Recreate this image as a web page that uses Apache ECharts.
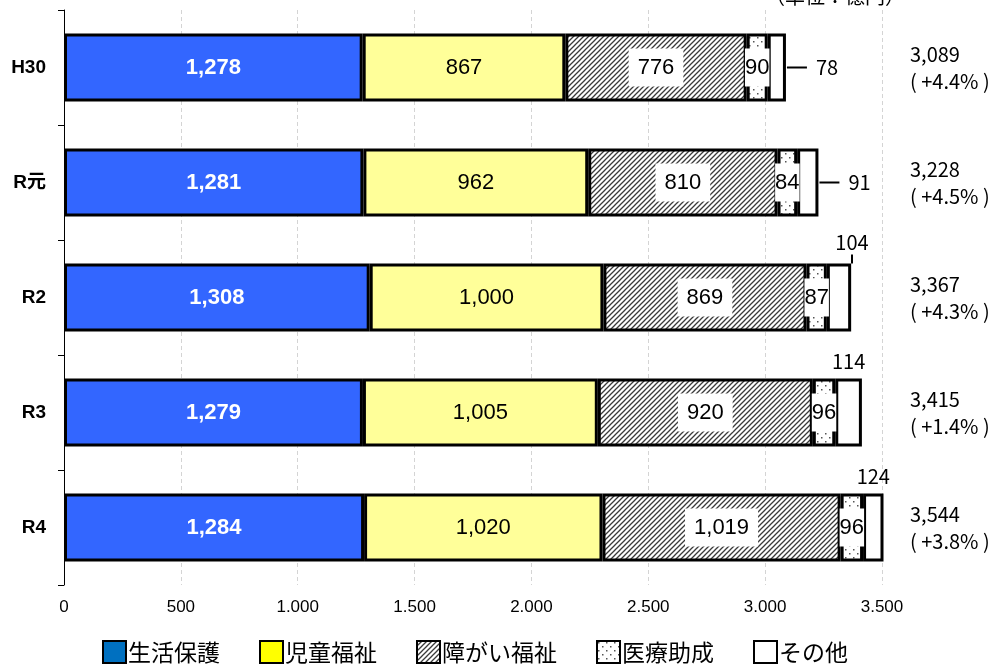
<!DOCTYPE html>
<html><head><meta charset="utf-8">
<script src="https://cdn.jsdelivr.net/npm/echarts@6/dist/echarts.min.js"></script>
<style>html,body{margin:0;padding:0;background:#fff}#c{width:1002px;height:664px}</style>
</head><body><div id="c"></div>
<script>
const categories = ['H30', 'R元', 'R2', 'R3', 'R4'];
const seikatsu = [1278, 1281, 1308, 1279, 1284];
const jidou = [867, 962, 1000, 1005, 1020];
const shogai = [776, 810, 869, 920, 1019];
const iryo = [90, 84, 87, 96, 96];
const sonota = [78, 91, 104, 114, 124];
const totals = ['3,089', '3,228', '3,367', '3,415', '3,544'];
const growth = ['+4.4%', '+4.5%', '+4.3%', '+1.4%', '+3.8%'];
const seriesNames = ['生活保護', '児童福祉', '障がい福祉', '医療助成', 'その他'];
const unitText = '（単位：億円）';

const FONT = '"Noto Sans CJK JP", "Liberation Sans", sans-serif';
const NARROW = '"Liberation Sans Narrow", "Liberation Sans", sans-serif';

function hatchPattern() {
  const s = 5;
  const c = document.createElement('canvas'); c.width = s; c.height = s;
  const g = c.getContext('2d');
  g.fillStyle = '#fff'; g.fillRect(0, 0, s, s);
  g.strokeStyle = '#3a3a3a'; g.lineWidth = 1.3;
  g.beginPath();
  g.moveTo(-1, s + 1); g.lineTo(s + 1, -1);
  g.moveTo(-1, 1); g.lineTo(1, -1);
  g.moveTo(s - 1, s + 1); g.lineTo(s + 1, s - 1);
  g.stroke();
  return c;
}
function dotPattern() {
  const c = document.createElement('canvas'); c.width = 8; c.height = 8;
  const g = c.getContext('2d');
  g.fillStyle = '#fff'; g.fillRect(0, 0, 8, 8);
  g.fillStyle = '#555';
  g.fillRect(1, 1, 1.5, 1.5); g.fillRect(5, 5, 1.5, 1.5);
  return c;
}
const hatch = { image: hatchPattern(), repeat: 'repeat' };
const dots = { image: dotPattern(), repeat: 'repeat' };

const border = { borderColor: '#000', borderWidth: 3 };
const fmt = p => p.value.toLocaleString('en-US');

function sonotaData() {
  return sonota.map((v, i) => {
    if (i < 2) {
      return { value: v, label: { position: 'right', distance: 1, formatter: '{ln|}  {t|' + v + '}' } };
    }
    if (i === 2) {
      return { value: v, label: { position: 'top', distance: 0, offset: [13, 0], formatter: '{t|' + v + '}\n{v|}' } };
    }
    return { value: v, label: { position: 'top', distance: 5, formatter: '{t|' + v + '}' } };
  });
}

const legendBorder = { borderColor: '#000', borderWidth: 2 };

const chart = echarts.init(document.getElementById('c'));
chart.setOption({
  animation: false,
  textStyle: { fontFamily: FONT },
  grid: { left: 64, right: 120, top: 10, bottom: 79, containLabel: false },
  graphic: [{
    type: 'text', right: 97, top: -14,
    style: { text: unitText, font: '20px ' + FONT, fill: '#000' }
  }],
  legend: {
    bottom: -5, left: 97, itemWidth: 23, itemHeight: 22, itemGap: 39, icon: 'rect',
    textStyle: { fontSize: 23, color: '#000', fontFamily: FONT, padding: [0, 0, 0, -3] },
    data: [
      { name: seriesNames[0], itemStyle: Object.assign({ color: '#0070C0' }, legendBorder) },
      { name: seriesNames[1], itemStyle: Object.assign({ color: '#FFFF00' }, legendBorder) },
      { name: seriesNames[2], itemStyle: Object.assign({ color: hatch }, legendBorder) },
      { name: seriesNames[3], itemStyle: Object.assign({ color: dots }, legendBorder) },
      { name: seriesNames[4], itemStyle: Object.assign({ color: '#fff' }, legendBorder) }
    ]
  },
  xAxis: {
    type: 'value', min: 0, max: 3500, interval: 500,
    axisLine: { show: false }, axisTick: { show: false },
    splitLine: { show: true, lineStyle: { color: '#d4d4d4', type: [4, 3], width: 1 } },
    axisLabel: {
      fontSize: 17, color: '#000', margin: 14, fontFamily: NARROW,
      formatter: v => v.toLocaleString('en-US').replace(',', '.')
    }
  },
  yAxis: [{
    type: 'category', data: categories, inverse: true,
    axisLine: { show: true, lineStyle: { color: '#000', width: 1 } },
    axisTick: { show: true, inside: false, length: 6, lineStyle: { color: '#000' } },
    axisLabel: { fontSize: 19, fontWeight: 'bold', color: '#000', margin: 18, fontFamily: '"Liberation Sans", "Noto Sans CJK JP", sans-serif' }
  }, {
    type: 'category', data: categories, inverse: true, position: 'right',
    axisLine: { show: false }, axisTick: { show: false },
    axisLabel: {
      align: 'left', margin: 28, fontSize: 20, color: '#000', lineHeight: 27,
      formatter: (v, i) => totals[i] + '\n( ' + growth[i] + ' )'
    }
  }],
  series: [
    {
      name: seriesNames[0], type: 'bar', stack: 't', barWidth: 68, data: seikatsu,
      itemStyle: Object.assign({ color: '#3366FF' }, border),
      label: { show: true, position: 'inside', color: '#fff', fontSize: 22, fontWeight: 'bold', fontFamily: NARROW, formatter: fmt }
    },
    {
      name: seriesNames[1], type: 'bar', stack: 't', data: jidou,
      itemStyle: Object.assign({ color: '#FFFF99' }, border),
      label: { show: true, position: 'inside', color: '#000', fontSize: 22, fontFamily: NARROW, formatter: fmt }
    },
    {
      name: seriesNames[2], type: 'bar', stack: 't', data: shogai,
      itemStyle: Object.assign({ color: hatch }, border),
      label: { show: true, position: 'inside', color: '#000', fontSize: 22, fontFamily: NARROW,
        backgroundColor: '#fff', padding: [8, 9], formatter: fmt }
    },
    {
      name: seriesNames[3], type: 'bar', stack: 't', data: iryo,
      itemStyle: Object.assign({ color: dots }, border),
      label: { show: true, position: 'inside', color: '#000', fontSize: 22, fontFamily: NARROW,
        backgroundColor: '#fff', padding: [8, 0], formatter: p => String(p.value) }
    },
    {
      name: seriesNames[4], type: 'bar', stack: 't', data: sonotaData(),
      itemStyle: Object.assign({ color: '#fff' }, border),
      label: { show: true, color: '#000', fontSize: 20,
        rich: {
          ln: { width: 20, height: 2, backgroundColor: '#000' },
          t: { fontSize: 20, color: '#000', lineHeight: 24 },
          v: { width: 2, height: 9, backgroundColor: '#000' }
        } }
    }
  ]
});
</script></body></html>
